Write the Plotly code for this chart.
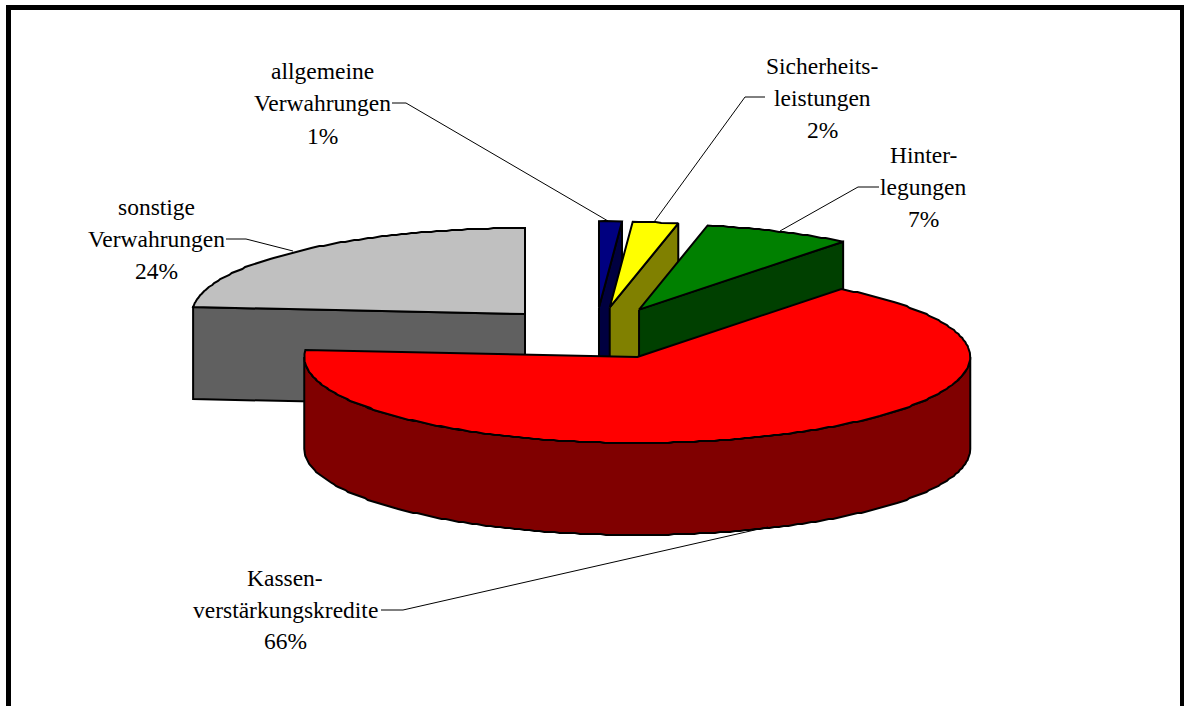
import numpy as np
import plotly.graph_objects as go

# shares in percent, clockwise from 12 o'clock
categories = ["allgemeine Verwahrungen", "Sicherheitsleistungen", "Hinterlegungen",
              "Kassenverstärkungskredite", "sonstige Verwahrungen"]
shares = [1.1, 2.2, 7.2, 65.8, 23.7]
top_colors = ["#000080", "#FFFF00", "#008000", "#FF0000", "#C0C0C0"]
side_colors = ["#000040", "#808000", "#004000", "#800000", "#606060"]

# pie geometry in page pixels
CX, CY = 595.4, 333.2
RX, RY = 333, 86
DEPTH = 92
EXPLODE_X = 0.312
EXPLODE_Y = 0.302
FONT = "Liberation Serif"
DRAW_ORDER = [4, 0, 1, 2, 3]  # back to front, red sits over the grey slice

fig = go.Figure()


def poly(xs, ys, color, name):
    fig.add_trace(go.Scatter(
        x=xs, y=ys, mode="lines", fill="toself", fillcolor=color,
        line=dict(color="#000000", width=2), name=name, hoverinfo="name",
    ))


def rim(x0, y0, a0, a1):
    # short steps and snapped y give the slightly bumpy edge of the original
    n = max(2, int((a1 - a0) / 0.9) + 1)
    t = np.radians(np.linspace(a0, a1, n))
    ys = y0 - RY * np.cos(t)
    ys[1:-1] = np.round(ys[1:-1])
    return x0 + RX * np.sin(t), ys


bounds = np.concatenate([[0], np.cumsum(shares) * 3.6])

for i in DRAW_ORDER:
    name, top, side = categories[i], top_colors[i], side_colors[i]
    start, end = bounds[i], bounds[i + 1]
    mid = np.radians((start + end) / 2)
    x0 = CX + EXPLODE_X * RX * np.sin(mid)
    y0 = CY - EXPLODE_Y * RY * np.cos(mid)
    rx, ry = rim(x0, y0, start, end)

    # radial wall on the start edge (faces us on the left half)
    if np.sin(np.radians(start)) < -1e-9:
        poly([x0, rx[0], rx[0], x0, x0], [y0, ry[0], ry[0] + DEPTH, y0 + DEPTH, y0], side, name)
    # radial wall on the end edge (faces us on the right half)
    if np.sin(np.radians(end)) > 1e-9:
        poly([x0, rx[-1], rx[-1], x0, x0], [y0, ry[-1], ry[-1] + DEPTH, y0 + DEPTH, y0], side, name)
    # outer wall, front half only
    a0, a1 = max(start, 90), min(end, 270)
    if a1 > a0:
        wx, wy = rim(x0, y0, a0, a1)
        poly(list(wx) + list(wx[::-1]) + [wx[0]],
             list(wy) + list(wy[::-1] + DEPTH) + [wy[0]], side, name)
    # top face
    poly([x0] + list(rx) + [x0], [y0] + list(ry) + [y0], top, name)

# labels, one annotation per line to keep the wide line spacing
labels = [
    (322, [71, 103, 136], ["allgemeine", "Verwahrungen", "1%"]),
    (822, [66, 98, 130], ["Sicherheits-", "leistungen", "2%"]),
    (923, [155, 187, 219], ["Hinter-", "legungen", "7%"]),
    (156, [207, 239, 271], ["sonstige", "Verwahrungen", "24%"]),
    (285, [578, 610, 641], ["Kassen-", "verstärkungskredite", "66%"]),
]
for lx, lys, lines in labels:
    for ly, line in zip(lys, lines):
        fig.add_annotation(x=lx, y=ly, text=line, showarrow=False, xanchor="center", yanchor="middle",
                           font=dict(family=FONT, size=23.5, color="#000000"))

leaders = [
    ([392, 406, 608], [103, 103, 221]),
    ([765, 745, 654], [97, 97, 222]),
    ([879, 858, 780], [187, 187, 231]),
    ([226, 246, 293], [239, 239, 251]),
    ([381, 403, 768], [610, 610, 527]),
]
for lx, ly in leaders:
    fig.add_trace(go.Scatter(x=lx, y=ly, mode="lines", line=dict(color="#000000", width=1), hoverinfo="skip"))

# chart frame, open at the bottom of the window
fig.add_shape(type="rect", x0=6, x1=11, y0=5, y1=706, fillcolor="#000000", line_width=0)
fig.add_shape(type="rect", x0=6, x1=1184, y0=5, y1=10, fillcolor="#000000", line_width=0)
fig.add_shape(type="rect", x0=1180, x1=1184, y0=5, y1=706, fillcolor="#000000", line_width=0)

fig.update_layout(
    width=1184, height=706, showlegend=False,
    margin=dict(l=0, r=0, t=0, b=0),
    paper_bgcolor="#FFFFFF", plot_bgcolor="#FFFFFF",
    xaxis=dict(range=[0, 1184], visible=False),
    yaxis=dict(range=[706, 0], visible=False),
)
fig.write_html("out.html", config=dict(displayModeBar=False),
               post_script="document.body.style.margin='0';document.body.style.overflow='hidden';")
